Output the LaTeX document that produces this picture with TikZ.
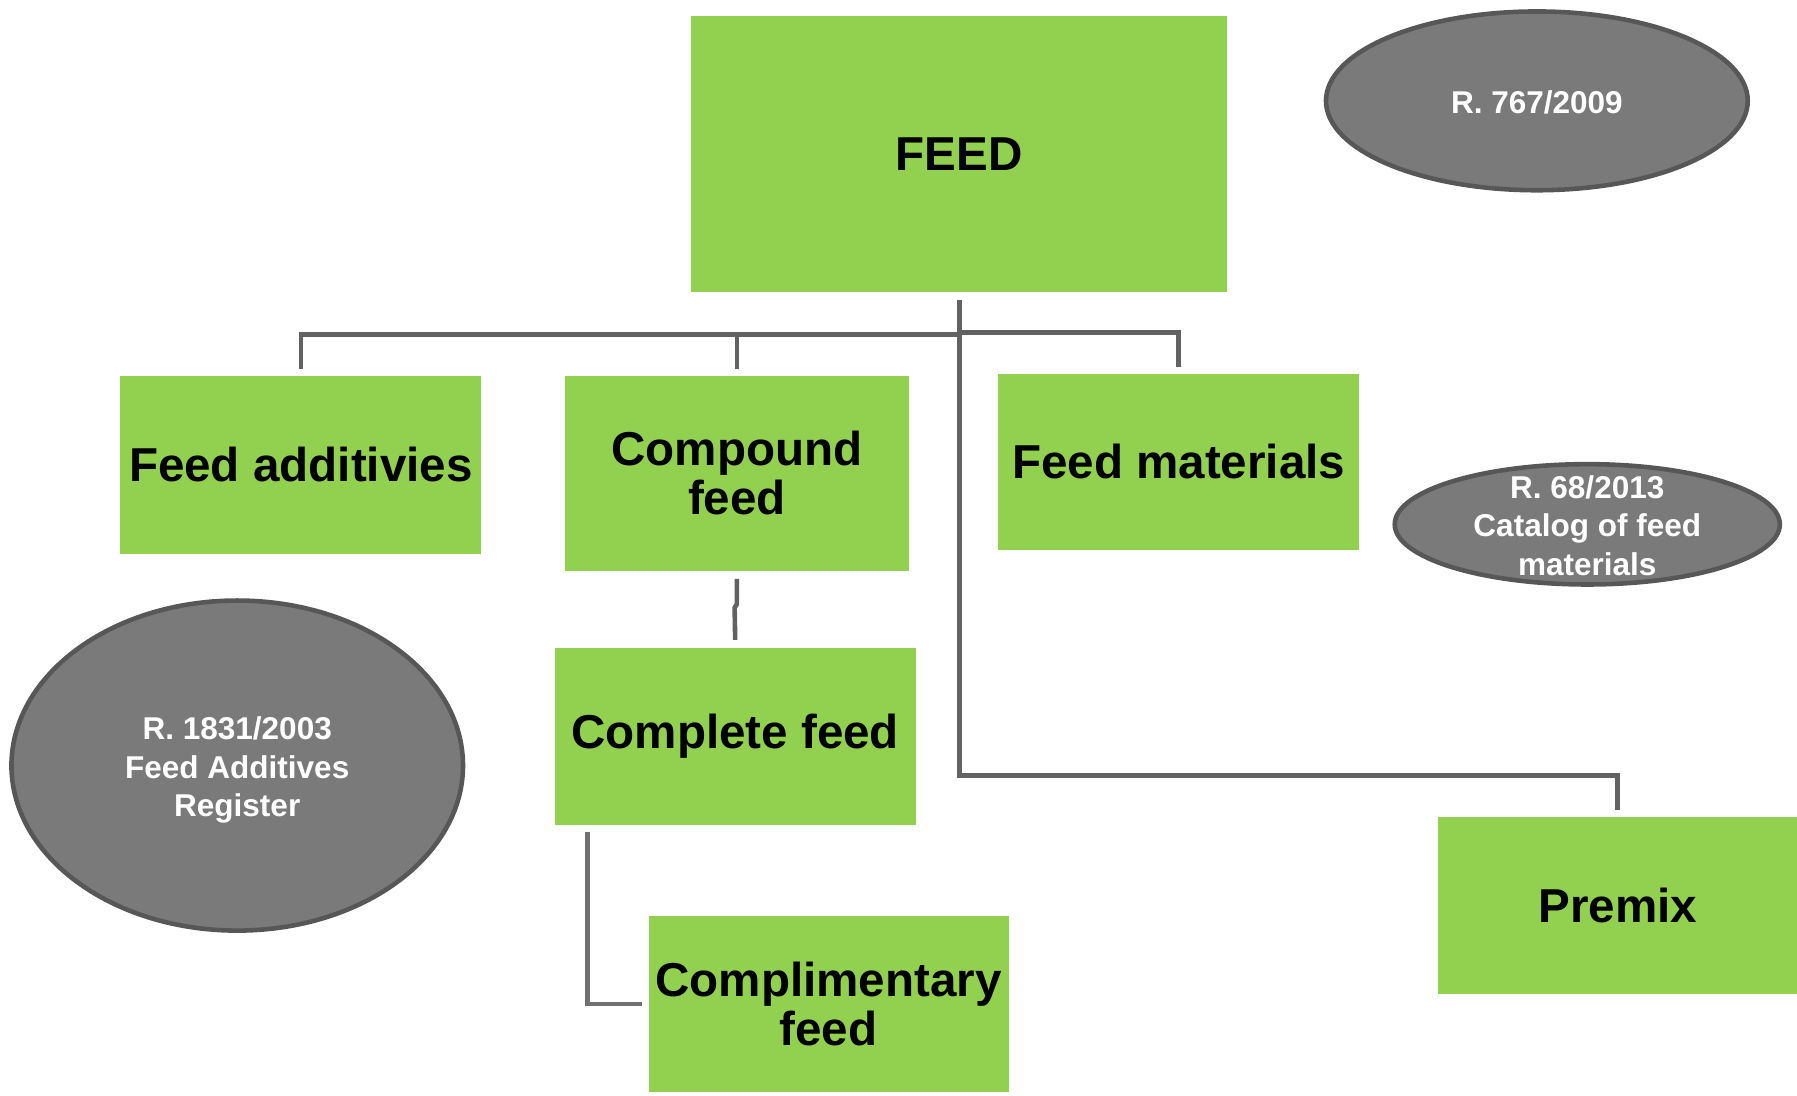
\documentclass[tikz,border=0pt]{standalone}
\usepackage{fontspec}
\setmainfont{Liberation Sans}
\usetikzlibrary{shapes.geometric,calc}
\definecolor{boxgreen}{HTML}{92D050}
\definecolor{ellfill}{HTML}{7A7A7A}
\definecolor{elldraw}{HTML}{575757}
\definecolor{conn}{HTML}{626262}
\definecolor{connlight}{HTML}{717171}
\begin{document}
\begin{tikzpicture}[x=1pt,y=-1pt,
  gbox/.style={rectangle, fill=boxgreen, inner sep=0pt, align=center,
    font=\fontsize{41.5}{43}\selectfont\bfseries},
  gell/.style={ellipse, fill=ellfill, draw=elldraw, line width=4pt, inner sep=0pt},
  elltext/.style={align=center, text=white, inner sep=0pt,
    font=\fontsize{27.5}{33.5}\selectfont\bfseries},
  conline/.style={draw=conn, line width=4pt},
  conlight/.style={draw=connlight, line width=4pt}]
\useasboundingbox (0,0) rectangle (1568,955.5);

% green boxes
\node[gbox, minimum width=468pt, minimum height=241pt] (feed) at (837,134.5) {FEED};
\node[gbox, minimum width=315pt, minimum height=155pt] (fa) at (262.5,405.5) {Feed additivies};
\node[gbox, minimum width=300pt, minimum height=170pt] (cf) at (643,413) {Compound\\feed};
\node[gbox, minimum width=315pt, minimum height=154pt] (fm) at (1028.5,403) {Feed materials};
\node[gbox, minimum width=315pt, minimum height=154pt] (compl) at (641.5,642.5) {Complete feed};
\node[gbox, minimum width=313pt, minimum height=154pt] (premix) at (1411.5,790) {Premix};
\node[gbox, minimum width=314pt, minimum height=154pt] (cmpl) at (723,876) {Complimentary\\feed};

% grey ellipses
\node[gell, minimum width=368pt, minimum height=156pt] (r767) at (1341,88) {};
\node[elltext] (r767t) at ([yshift=-1pt]r767.center) {R. 767/2009};
\node[gell, minimum width=336pt, minimum height=105pt] (r68) at (1385,457.5) {};
\node[elltext] (r68t) at ([yshift=-1pt]r68.center) {R. 68/2013\\Catalog of feed\\materials};
\node[gell, minimum width=394pt, minimum height=288pt] (r1831) at (207,668) {};
\node[elltext] (r1831t) at ([yshift=-4pt]r1831.center) {R. 1831/2003\\Feed Additives\\Register};

% connectors
\coordinate (j1) at (837,292);
\coordinate (j2) at (837,290);
\draw[conline] ([yshift=-7pt]feed.south) |- ($(premix.north)+(0,-36)$) -- ([yshift=6pt]premix.north);
\draw[conline] ([yshift=6pt]fa.north) |- (j1);
\draw[conline] ([yshift=6pt]cf.north) -- (cf.north |- j1);
\draw[conline] (j2) -| ([yshift=6pt]fm.north);
\draw[conline] ([yshift=-7pt]cf.south) -- ++(0,22) -- ++(-2,3) -- ([yshift=7pt]compl.north);
\draw[conlight] ([xshift=29pt,yshift=-6pt]compl.south west) |- ([xshift=-6pt]cmpl.west);
\end{tikzpicture}
\end{document}
